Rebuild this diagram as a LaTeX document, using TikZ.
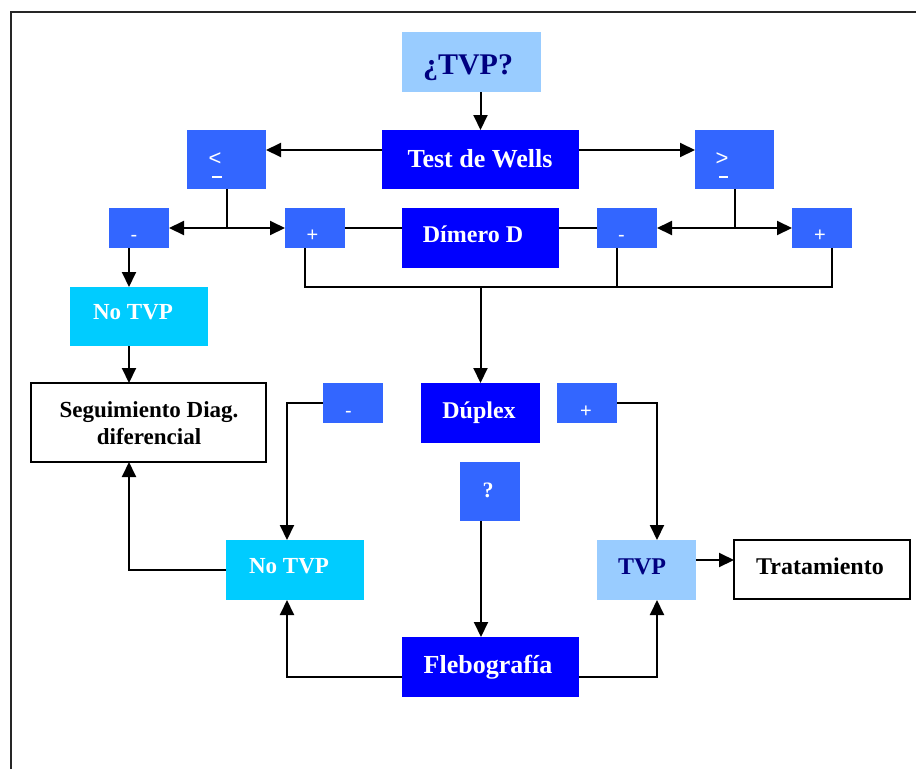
\documentclass[tikz,border=0pt]{standalone}
\usepackage{fontspec}
\setmainfont{Liberation Serif}
\setsansfont{Liberation Sans}
\usetikzlibrary{arrows.meta}
\definecolor{paleblue}{HTML}{99CCFF}
\definecolor{deepblue}{HTML}{0000FF}
\definecolor{midblue}{HTML}{3366FF}
\definecolor{cyanbox}{HTML}{00CCFF}
\definecolor{navytext}{HTML}{000080}
\newcommand{\fs}[1]{\fontsize{#1}{#1}\selectfont}
\begin{document}
\begin{tikzpicture}[x=1pt,y=-1pt,
  box/.style={inner sep=0pt, outer sep=0pt, draw=none},
  outlined/.style={box, fill=white, draw=black, line width=2pt},
  lbl/.style={inner sep=0pt, outer sep=0pt, anchor=base, font=\bfseries},
  sym/.style={inner sep=0pt, outer sep=0pt, anchor=base, text=white, font=\sffamily\fs{20}},
  ln/.style={line width=2pt},
  arr/.style={line width=2pt, -{Triangle[length=15pt,width=14pt]}}]
\useasboundingbox (0,0) rectangle (916,769);
% outer frame
\draw[line width=2.2pt, black!85] (11,769) -- (11,12) -- (916,12);

% boxes
\node[box, fill=paleblue, minimum width=139pt, minimum height=60pt] (qtvp) at (471.5,62) {};
\node[box, fill=deepblue, minimum width=197pt, minimum height=59pt] (wells) at (480.5,159.5) {};
\node[box, fill=midblue, minimum width=79pt, minimum height=59pt] (lt) at (226.5,159.5) {};
\node[box, fill=midblue, minimum width=79pt, minimum height=59pt] (gt) at (734.5,159.5) {};
\node[box, fill=midblue, minimum width=60pt, minimum height=40pt] (lminus) at (139,228) {};
\node[box, fill=midblue, minimum width=60pt, minimum height=40pt] (lplus) at (315,228) {};
\node[box, fill=deepblue, minimum width=157pt, minimum height=60pt] (dimer) at (480.5,238) {};
\node[box, fill=midblue, minimum width=60pt, minimum height=40pt] (rminus) at (627,228) {};
\node[box, fill=midblue, minimum width=60pt, minimum height=40pt] (rplus) at (822,228) {};
\node[box, fill=cyanbox, minimum width=138pt, minimum height=59pt] (notvpA) at (139,316.5) {};
\node[outlined, minimum width=235pt, minimum height=79pt] (seg) at (148.5,422.5) {};
\node[box, fill=midblue, minimum width=60pt, minimum height=40pt] (mminus) at (353,403) {};
\node[box, fill=deepblue, minimum width=119pt, minimum height=60pt] (duplex) at (480.5,413) {};
\node[box, fill=midblue, minimum width=60pt, minimum height=40pt] (mplus) at (587,403) {};
\node[box, fill=midblue, minimum width=60pt, minimum height=59pt] (qbox) at (490,491.5) {};
\node[box, fill=cyanbox, minimum width=138pt, minimum height=60pt] (notvpB) at (295,570) {};
\node[box, fill=paleblue, minimum width=99pt, minimum height=60pt] (tvp) at (646.5,570) {};
\node[outlined, minimum width=176pt, minimum height=59pt] (trat) at (822,569.5) {};
\node[box, fill=deepblue, minimum width=177pt, minimum height=60pt] (fleb) at (490.5,667) {};

% texts
\node[lbl, text=navytext, font=\bfseries\fs{30}] (qtvp-t) at (468,74) {¿TVP?};
\node[lbl, text=white, font=\bfseries\fs{26}] (wells-t) at (480,167) {Test de Wells};
\node[lbl, text=white, font=\bfseries\fs{24}] (dimer-t) at (473,242) {Dímero D};
\node[lbl, text=white, font=\bfseries\fs{24}] (duplex-t) at (479,418) {Dúplex};
\node[lbl, text=white, font=\bfseries\fs{22}] (qbox-t) at (488,497) {?};
\node[lbl, text=white, font=\bfseries\fs{26}] (fleb-t) at (488,673) {Flebografía};
\node[lbl, text=white, font=\bfseries\fs{23}] (notvpA-t) at (133,319) {No TVP};
\node[lbl, text=white, font=\bfseries\fs{23}] (notvpB-t) at (289,573) {No TVP};
\node[lbl, text=black, font=\bfseries\fs{23}] (seg-t1) at (149,417) {Seguimiento Diag.};
\node[lbl, text=black, font=\bfseries\fs{23}] (seg-t2) at (149,444) {diferencial};
\node[lbl, text=navytext, font=\bfseries\fs{24}] (tvp-t) at (642,574) {TVP};
\node[lbl, text=black, font=\bfseries\fs{24}] (trat-t) at (820,574) {Tratamiento};

\node[sym, font=\sffamily\fs{22}] (lt-t) at (215,165) {<};
\node[sym, font=\sffamily\fs{22}] (gt-t) at (722,165) {>};
\draw[white, line width=2pt] (212,177) -- (222,177);
\draw[white, line width=2pt] (719,177) -- (728,177);
\node[sym] (lminus-t) at (134,241) {-};
\node[sym] (lplus-t) at (312.5,241) {+};
\node[sym] (rminus-t) at (621.5,241) {-};
\node[sym] (rplus-t) at (820,241) {+};
\node[sym] (mminus-t) at (348.5,417) {-};
\node[sym] (mplus-t) at (586,417) {+};

% connectors
\draw[arr] (wells.north |- qtvp.south) -- (wells.north);
\draw[arr] ([yshift=9.5pt]wells.west) -- ([yshift=9.5pt]lt.east);
\draw[arr] ([yshift=9.5pt]wells.east) -- ([yshift=9.5pt]gt.west);

\coordinate (jl) at (lt.south |- lminus.east);
\draw[ln] (lt.south) -- (jl);
\draw[arr] (jl) -- (lminus.east);
\draw[arr] (jl) -- (lplus.west);
\draw[ln] (lplus.east) -- (lplus.east -| dimer.west);
\draw[ln] (rminus.west) -- (rminus.west -| dimer.east);

\coordinate (jr) at (gt.south |- rminus.east);
\draw[ln] (gt.south) -- (jr);
\draw[arr] (jr) -- (rminus.east);
\draw[arr] (jr) -- (rplus.west);

\coordinate (bus) at (duplex.north |- 0,287);
\draw[ln] ([xshift=-10pt]lplus.south) |- ([xshift=10pt]rplus.south |- bus) -- ([xshift=10pt]rplus.south);
\draw[ln] ([xshift=-10pt]rminus.south) -- ([xshift=-10pt]rminus.south |- bus);
\draw[arr] (bus) -- (duplex.north);

\draw[arr] ([xshift=-10pt]lminus.south) -- ([xshift=-10pt]lminus.south |- notvpA.north);
\draw[arr] ([xshift=-10pt]notvpA.south) -- ([xshift=-10pt]notvpA.south |- seg.north);

\draw[arr] (mminus.west) -| ([xshift=-8pt]notvpB.north);
\draw[arr] (mplus.east) -| ([xshift=10.5pt]tvp.north);
\draw[arr] ([xshift=-9pt]qbox.south) -- ([xshift=-9pt]qbox.south |- fleb.north);
\draw[arr] ([yshift=-10pt]fleb.west) -| ([xshift=-8pt]notvpB.south);
\draw[arr] ([yshift=-10pt]fleb.east) -| ([xshift=10.5pt]tvp.south);
\draw[arr] (notvpB.west) -| ([xshift=-19.5pt]seg.south);
\draw[arr] ([yshift=10pt]tvp.east) -- ([yshift=10pt]tvp.east -| trat.west);
\end{tikzpicture}
\end{document}
